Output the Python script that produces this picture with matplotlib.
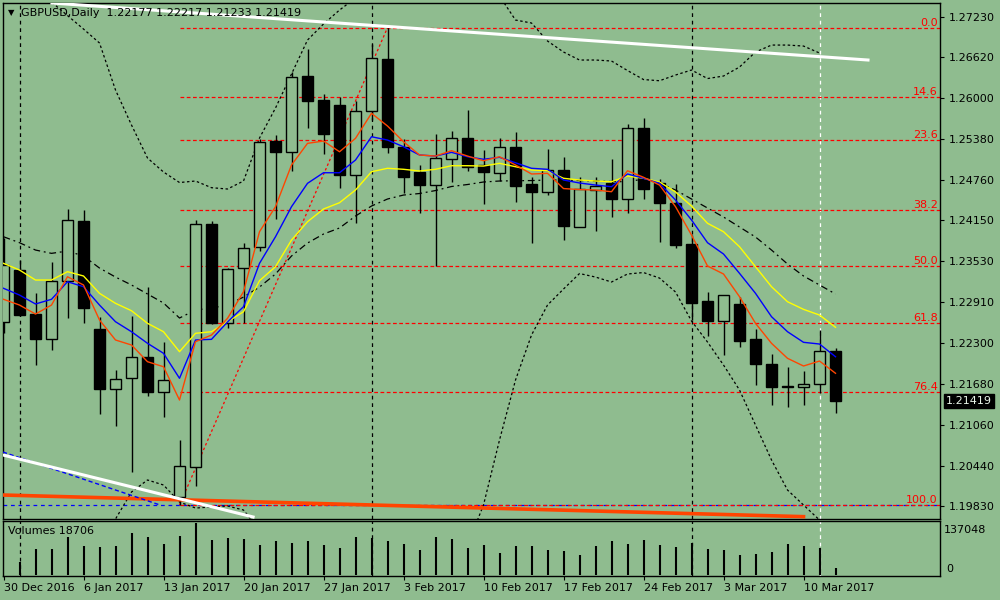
import matplotlib.pyplot as plt
import matplotlib.transforms as mtransforms
from matplotlib.patches import Rectangle

BG = "#8fbc8f"

# daily bars, 30 Dec 2016 .. 14 Mar 2017 (index 0 .. 52)
opens = [1.22619, 1.23400, 1.22735, 1.22362, 1.23234, 1.24140, 1.22509, 1.21598, 1.21764, 1.22081,
         1.21552, 1.19975, 1.20428, 1.24091, 1.22604, 1.23426, 1.23743, 1.25349, 1.25187, 1.26331,
         1.25969, 1.25888, 1.24831, 1.25798, 1.26583, 1.25254, 1.24885, 1.24689, 1.25073, 1.25390,
         1.24982, 1.24861, 1.25254, 1.24699, 1.24583, 1.24911, 1.24054, 1.24609, 1.24710, 1.24468,
         1.25541, 1.24710, 1.24408, 1.23793, 1.22932, 1.22634, 1.22887, 1.22358, 1.21980, 1.21648,
         1.21628, 1.21673, 1.22177]
highs = [1.23884, 1.23551, 1.23053, 1.23526, 1.24322, 1.24307, 1.22695, 1.21889, 1.22705, 1.23148,
         1.22312, 1.20832, 1.24156, 1.24145, 1.23435, 1.23801, 1.25375, 1.25435, 1.26396, 1.26735,
         1.26055, 1.26009, 1.25958, 1.26815, 1.27067, 1.25375, 1.24987, 1.25455, 1.25500, 1.25817,
         1.25213, 1.25399, 1.25485, 1.24801, 1.25224, 1.25103, 1.24810, 1.24801, 1.25073, 1.25606,
         1.25692, 1.24770, 1.24699, 1.23929, 1.23072, 1.23023, 1.22997, 1.22509, 1.22131, 1.21930,
         1.21874, 1.22494, 1.22217]
lows = [1.22448, 1.22705, 1.21969, 1.22192, 1.22680, 1.22595, 1.21220, 1.21048, 1.20353, 1.21501,
        1.21184, 1.19850, 1.20141, 1.22584, 1.22519, 1.22599, 1.23692, 1.24171, 1.24896, 1.25550,
        1.25153, 1.24644, 1.24106, 1.25666, 1.25172, 1.24568, 1.24257, 1.23461, 1.24734, 1.24900,
        1.24393, 1.24749, 1.24423, 1.23813, 1.24533, 1.23853, 1.24050, 1.23994, 1.24196, 1.24266,
        1.24468, 1.23828, 1.23732, 1.22645, 1.22408, 1.22116, 1.22241, 1.21663, 1.21361, 1.21326,
        1.21361, 1.21537, 1.21233]
closes = [1.23476, 1.22720, 1.22362, 1.23234, 1.24156, 1.22822, 1.21598, 1.21749, 1.22081, 1.21562,
          1.21734, 1.20439, 1.24091, 1.22604, 1.23411, 1.23728, 1.25329, 1.25187, 1.26311, 1.25958,
          1.25455, 1.24840, 1.25798, 1.26599, 1.25263, 1.24810, 1.24689, 1.25088, 1.25390, 1.24961,
          1.24885, 1.25254, 1.24674, 1.24583, 1.24911, 1.24065, 1.24619, 1.24669, 1.24468, 1.25541,
          1.24619, 1.24408, 1.23778, 1.22906, 1.22630, 1.23018, 1.22332, 1.21976, 1.21637, 1.21628,
          1.21673, 1.22172, 1.21419]
# volumes from 2 Jan 2017 (index 1) on
volumes = [35000, 68500, 68500, 101000, 77200, 73800, 76400, 111500, 101000, 82500,
           103600, 137048, 92200, 97500, 94900, 79900, 89600, 84300, 89600, 79900,
           71200, 101000, 97500, 89600, 82500, 65900, 101000, 94900, 72000, 79900,
           58000, 76400, 76400, 65900, 63200, 52700, 76400, 89600, 81700, 92200,
           79900, 73800, 85100, 68500, 65900, 52700, 55300, 60600, 81700, 76400,
           71200, 18706]

ma_fast = [1.22958, 1.22871, 1.22735, 1.22871, 1.23299, 1.23174, 1.22645, 1.22343, 1.22267, 1.22015,
           1.21939, 1.21436, 1.22317, 1.22418, 1.22670, 1.23072, 1.23979, 1.24357, 1.24987, 1.25314,
           1.25349, 1.25187, 1.25390, 1.25768, 1.25576, 1.25339, 1.25138, 1.25122, 1.25203, 1.25122,
           1.25051, 1.25112, 1.24987, 1.24851, 1.24861, 1.24631, 1.24616, 1.24609, 1.24583, 1.24900,
           1.24801, 1.24684, 1.24357, 1.23929, 1.23461, 1.23340, 1.22997, 1.22595, 1.22293, 1.22066,
           1.21950, 1.22025, 1.21840]
ma_mid = [1.23124, 1.23022, 1.22887, 1.22958, 1.23223, 1.23148, 1.22871, 1.22619, 1.22468, 1.22293,
          1.22142, 1.21764, 1.22343, 1.22353, 1.22615, 1.22846, 1.23501, 1.23903, 1.24357, 1.24710,
          1.24870, 1.24870, 1.25062, 1.25414, 1.25364, 1.25263, 1.25138, 1.25122, 1.25178, 1.25112,
          1.25073, 1.25103, 1.25021, 1.24937, 1.24922, 1.24760, 1.24715, 1.24684, 1.24659, 1.24851,
          1.24786, 1.24710, 1.24458, 1.24156, 1.23813, 1.23642, 1.23350, 1.23048, 1.22695, 1.22468,
          1.22308, 1.22282, 1.22090]
ma_slow = [1.23501, 1.23400, 1.23249, 1.23249, 1.23375, 1.23310, 1.23048, 1.22897, 1.22785, 1.22595,
           1.22468, 1.22166, 1.22444, 1.22468, 1.22619, 1.22770, 1.23239, 1.23450, 1.23853, 1.24130,
           1.24322, 1.24417, 1.24609, 1.24885, 1.24937, 1.24922, 1.24896, 1.24922, 1.24976, 1.24976,
           1.24971, 1.25012, 1.24961, 1.24911, 1.24900, 1.24786, 1.24760, 1.24745, 1.24734, 1.24820,
           1.24786, 1.24730, 1.24579, 1.24367, 1.24106, 1.23979, 1.23752, 1.23450, 1.23148, 1.22921,
           1.22806, 1.22720, 1.22535]
ma_long = [1.23903, 1.23813, 1.23702, 1.23652, 1.23687, 1.23612, 1.23430, 1.23294, 1.23174, 1.23038,
           1.22902, 1.22675, 1.22796, 1.22826, 1.22871, 1.22992, 1.23143, 1.23340, 1.23612, 1.23808,
           1.23944, 1.24035, 1.24216, 1.24367, 1.24473, 1.24533, 1.24556, 1.24601, 1.24662, 1.24692,
           1.24730, 1.24745, 1.24749, 1.24752, 1.24760, 1.24760, 1.24752, 1.24745, 1.24737, 1.24734,
           1.24775, 1.24715, 1.24609, 1.24473, 1.24337, 1.24201, 1.24050, 1.23899, 1.23702, 1.23491,
           1.23310, 1.23174, 1.23038]
band_up = [1.28386, 1.28084, 1.27706, 1.27449, 1.27245, 1.27041, 1.26830, 1.26120, 1.25591, 1.25092,
           1.24881, 1.24722, 1.24745, 1.24644, 1.24624, 1.24745, 1.25394, 1.25848, 1.26361, 1.26875,
           1.27117, 1.27328, 1.27510, 1.27661, 1.27751, 1.27812, 1.27842, 1.27842, 1.27812, 1.27751,
           1.27661, 1.27540, 1.27177, 1.27132, 1.26860, 1.26694, 1.26573, 1.26573, 1.26558, 1.26414,
           1.26278, 1.26260, 1.26346, 1.26422, 1.26293, 1.26331, 1.26467, 1.26694, 1.26799, 1.26799,
           1.26784, 1.26679]
band_dn = [1.18415, 1.18415, 1.18490, 1.18641, 1.18792, 1.19019, 1.19321, 1.19638, 1.20046, 1.20228,
           1.20152, 1.19895, 1.19804, 1.19820, 1.19835, 1.19774, 1.19472, 1.19019, 1.18566, 1.18263,
           1.18112, 1.18112, 1.18112, 1.18112, 1.18112, 1.18112, 1.18112, 1.18112, 1.18415, 1.19245,
           1.19850, 1.20832, 1.21738, 1.22418, 1.22871, 1.23113, 1.23347, 1.23294, 1.23219, 1.23340,
           1.23362, 1.23279, 1.23068, 1.22630, 1.22312, 1.21965, 1.21587, 1.21058, 1.20530, 1.20076,
           1.19850, 1.19623]

# hand drawn objects: (bar, price) pairs
trend_top = [(3.03, 1.27434), (54.03, 1.26573)]
trend_bottom = [(-0.03, 1.20605), (15.6, 1.19669)]
trend_blue = [(-0.03, 1.20650), (9.78, 1.19850)]
ma_weekly = [(-0.05, 1.20001), (50.0, 1.19674)]
fib_low_bar, fib_low = 11, 1.19850
fib_high_bar, fib_high = 24, 1.27062
fib_levels = [0.0, 14.6, 23.6, 38.2, 50.0, 61.8, 76.4, 100.0]

month_seps = [1, 23, 43]
cursor_bar = 51
price_ticks = [1.27230, 1.26620, 1.26000, 1.25380, 1.24760, 1.24150, 1.23530,
               1.22910, 1.22300, 1.21680, 1.21060, 1.20440, 1.19830]
date_idx = [0, 5, 10, 15, 20, 25, 30, 35, 40, 45, 50]
date_labels = ["30 Dec 2016", "6 Jan 2017", "13 Jan 2017", "20 Jan 2017", "27 Jan 2017",
               "3 Feb 2017", "10 Feb 2017", "17 Feb 2017", "24 Feb 2017", "3 Mar 2017",
               "10 Mar 2017"]

idx = list(range(len(opens)))
XMAX = 58.53

fig = plt.figure(figsize=(10, 6), dpi=100, facecolor=BG)
ax = fig.add_axes([0.0027, 0.13583, 0.9373, 0.86], facecolor=BG)
axv = fig.add_axes([0.0027, 0.03917, 0.9373, 0.09333], facecolor=BG)

for a in (ax, axv):
    a.set_xlim(-0.05, XMAX)
    for s in a.spines.values():
        s.set_color("black")
        s.set_linewidth(1)
    for m in month_seps:
        a.axvline(m, color="black", lw=0.9, ls=(0, (3, 3)), zorder=1)
    a.axvline(cursor_bar, color="white", lw=0.9, ls=(0, (3, 3)), zorder=1)

ax.set_ylim(1.19646, 1.27442)

# fibonacci retracement
rng = fib_high - fib_low
ax.axhline(fib_low, color="blue", lw=0.9, ls=(0, (3, 3)), zorder=2)
for lvl in fib_levels:
    p = fib_high - lvl / 100 * rng
    ax.hlines(p, fib_low_bar, XMAX, colors="red", lw=0.9, linestyles=(0, (3, 2)), zorder=2)
    ax.annotate(f"{lvl:.1f}", (58.4, p), xytext=(0, 1.5), textcoords="offset points",
                ha="right", va="baseline", color="red", fontsize=8)
ax.plot([fib_low_bar, fib_high_bar], [fib_low, fib_high], color="red", lw=0.9,
        ls=(0, (2, 2)), zorder=2)

# bands and slow average
ax.plot(idx[:len(band_up)], band_up, color="black", lw=0.9, ls=(0, (2, 2)), zorder=3)
ax.plot(idx[:len(band_dn)], band_dn, color="black", lw=0.9, ls=(0, (2, 2)), zorder=3)
ax.plot(idx, ma_long, color="black", lw=0.9, ls=(0, (5.5, 3, 1.5, 3)), zorder=3)

# candles
for i in idx:
    o, h, l, c = opens[i], highs[i], lows[i], closes[i]
    ax.vlines(i, l, h, colors="black", lw=1, zorder=4)
    bottom = min(o, c)
    height = max(abs(c - o), 0.00003)
    face = BG if c >= o else "black"
    ax.add_patch(Rectangle((i - 0.34, bottom), 0.68, height, facecolor=face,
                           edgecolor="black", lw=1, zorder=5))

ax.plot(idx, ma_slow, color="#ffff00", lw=1, zorder=6)
ax.plot(idx, ma_mid, color="#0000ff", lw=1, zorder=6)
ax.plot(idx, ma_fast, color="#ff4500", lw=1, zorder=6)

for pts, col, lw, ls in [(ma_weekly, "#ff4500", 2.6, "-"),
                         (trend_blue, "blue", 1, (0, (3, 2))),
                         (trend_bottom, "white", 2.2, "-"),
                         (trend_top, "white", 2.2, "-")]:
    ax.plot([p[0] for p in pts], [p[1] for p in pts], color=col, lw=lw, ls=ls, zorder=7)

ax.yaxis.tick_right()
ax.set_yticks(price_ticks)
ax.set_yticklabels([f"{p:.5f}" for p in price_ticks])
ax.tick_params(axis="y", length=3, width=0.8, pad=3, labelsize=8, colors="black")
ax.set_xticks([])

# last price marker
trans = mtransforms.blended_transform_factory(ax.transAxes, ax.transData)
ax.text(1.0065, closes[-1], f"{closes[-1]:.5f}", transform=trans, ha="left", va="center",
        fontsize=8, color="#e8f4e8",
        bbox=dict(boxstyle="square,pad=0.2", facecolor="black", edgecolor="black"))

fig.text(0.008, 1 - 12.5 / 600, "\u25bc", fontsize=6, va="center", ha="left")
fig.text(0.021, 1 - 13 / 600,
         f"GBPUSD,Daily  {opens[-1]:.5f} {highs[-1]:.5f} {lows[-1]:.5f} {closes[-1]:.5f}",
         fontsize=8, va="center", ha="left")

# volumes
vmax = max(volumes)
axv.vlines(idx[1:], 0, volumes, colors="black", lw=1.5, zorder=3)
axv.set_ylim(-vmax * 1.5 / 52, vmax * 54.5 / 52)
axv.set_yticks([])
axv.set_xticks(date_idx)
axv.set_xticklabels(date_labels, ha="left", fontsize=8)
axv.tick_params(axis="x", length=3, width=0.8, pad=2)
axv.text(0.006, 0.82, f"Volumes {volumes[-1]}", transform=axv.transAxes, fontsize=8,
         va="center", ha="left")
fig.text(0.944, 1 - 530 / 600, f"{vmax}", fontsize=8, va="center", ha="left")
fig.text(0.946, 1 - 569 / 600, "0", fontsize=8, va="center", ha="left")

fig.savefig("out.png", dpi=100, facecolor=BG)
